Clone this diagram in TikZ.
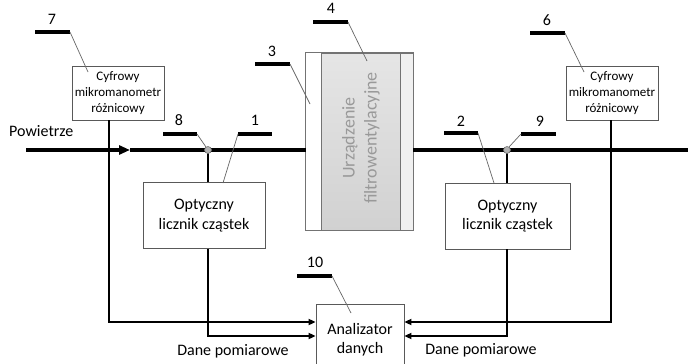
\documentclass[tikz,border=0pt]{standalone}
\usepackage{fontspec}
\setmainfont{Carlito}
\usetikzlibrary{arrows.meta,calc}
\begin{document}
\begin{tikzpicture}[x=1pt,y=-1pt,
  box/.style={draw=black!65, line width=0.8pt, fill=white, inner sep=0pt, align=center},
  smallbox/.style={box, minimum width=92pt, minimum height=54pt, font=\fontsize{13}{16}\selectfont},
  bigbox/.style={box, font=\fontsize{16}{19.5}\selectfont},
  mainline/.style={line width=3.2pt, black},
  conn/.style={line width=1.8pt, black, -{Triangle[length=7pt,width=6pt]}},
  bar/.style={line width=3.6pt, black},
  leader/.style={line width=0.7pt, black!60},
  num/.style={font=\fontsize{16}{18}\selectfont, inner sep=0pt},
  txt/.style={font=\fontsize{16}{19}\selectfont, inner sep=0pt},
  sensor/.style={circle, draw=black!55, fill=black!30, line width=0.6pt, minimum size=7pt, inner sep=0pt}
]
\clip (0,0) rectangle (688,364);
\fill[white] (0,0) rectangle (688,364);

% main air line
\coordinate (in) at (26,150);
\coordinate (arr) at (130,150);
\coordinate (out) at (690,150);
\node[txt, anchor=west] (pow) at (9,131) {Powietrze};

% filter-ventilation unit
\node[draw=black!55, line width=0.8pt, fill=black!6, minimum width=107pt, minimum height=177pt, inner sep=0pt] (filt) at (359.5,141.5) {};
\fill[white] (306.4,53.4) rectangle (321,229.6);
\node[draw=black!55, line width=0.8pt, minimum width=79pt, minimum height=177pt, inner sep=0pt,
      top color=black!10, bottom color=black!18] (core) at (360.5,141.5) {};
\draw[black!55, line width=0.8pt] (filt.north west) rectangle (filt.south east);
\node[rotate=90, align=center, text=black!40, font=\fontsize{18}{22}\selectfont, inner sep=0pt] (ftext) at (361,138) {Urządzenie\\filtrowentylacyjne};

\draw[mainline, -{Triangle[length=11pt,width=9pt]}] (in) -- (arr);
\draw[mainline] (arr) -- (filt.west |- arr);
\draw[mainline] (filt.east |- out) -- (out);

% boxes
\node[smallbox] (m7) at (118,93) {Cyfrowy\\mikromanometr\\różnicowy};
\node[smallbox] (m6) at (612,93) {Cyfrowy\\mikromanometr\\różnicowy};
\node[bigbox, minimum width=122pt, minimum height=66pt] (c1) at (204,215.5) {Optyczny\\licznik cząstek};
\node[bigbox, minimum width=125pt, minimum height=66pt] (c2) at (507.5,216) {Optyczny\\licznik cząstek};
\node[bigbox, minimum width=88pt, minimum height=72pt, anchor=north] (an) at (360,304) {};
\node[txt, align=center] (antext) at (360,339.5) {Analizator\\danych};

% sensors
\coordinate (s8) at (208,150);
\coordinate (s9) at (507,150);

% connectors
\draw[line width=1.8pt] (s8) -- (s8 |- c1.north);
\draw[line width=1.8pt] (s9) -- (s9 |- c2.north);
\draw[conn] (m7.south -| 109,0) |- ($(an.north west)+(0,18)$);
\draw[conn] (s8 |- c1.south) |- ($(an.north west)+(0,32)$);
\draw[conn] (m6.south -| 611,0) |- ($(an.north east)+(0,18)$);
\draw[conn] (s9 |- c2.south) |- ($(an.north east)+(0,32)$);

\node[sensor] (p8) at (s8) {};
\node[sensor] (p9) at (s9) {};

\node[txt] (d1) at (233,351) {Dane pomiarowe};
\node[txt] (d2) at (481,350) {Dane pomiarowe};

% reference numbers
\node[num] (n7) at (52,19) {7};
\draw[bar] (35,32) coordinate (b7a) -- (70,32) coordinate (b7b);
\coordinate (e7) at (88,72);
\draw[leader] (b7b) -- (e7);

\node[num] (n8) at (179,120) {8};
\draw[bar] (163,134) coordinate (b8a) -- (197,134) coordinate (b8b);
\coordinate (e8) at (206,147);
\draw[leader] (b8b) -- (e8);

\node[num] (n1) at (255,120) {1};
\draw[bar] (238,134) coordinate (b1a) -- (272,134) coordinate (b1b);
\coordinate (e1) at (223,183);
\draw[leader] (b1a) -- (e1);

\node[num] (n3) at (272,51) {3};
\draw[bar] (255,64) coordinate (b3a) -- (290,64) coordinate (b3b);
\coordinate (e3) at (310,104);
\draw[leader] (b3b) -- (e3);

\node[num] (n4) at (331,8) {4};
\draw[bar] (313,22) coordinate (b4a) -- (348,22) coordinate (b4b);
\coordinate (e4) at (367,61);
\draw[leader] (b4b) -- (e4);

\node[num] (n2) at (461,121) {2};
\draw[bar] (444,133) coordinate (b2a) -- (478,133) coordinate (b2b);
\coordinate (e2) at (494,183);
\draw[leader] (b2b) -- (e2);

\node[num] (n9) at (540,121) {9};
\draw[bar] (521,134) coordinate (b9a) -- (556,134) coordinate (b9b);
\coordinate (e9) at (509,147);
\draw[leader] (b9a) -- (e9);

\node[num] (n6) at (547,20) {6};
\draw[bar] (530,33) coordinate (b6a) -- (565,33) coordinate (b6b);
\coordinate (e6) at (584,72);
\draw[leader] (b6b) -- (e6);

\node[num] (n10) at (315,262) {10};
\draw[bar] (297,276) coordinate (b10a) -- (332,276) coordinate (b10b);
\coordinate (e10) at (351,313);
\draw[leader] (b10b) -- (e10);
\end{tikzpicture}
\end{document}
